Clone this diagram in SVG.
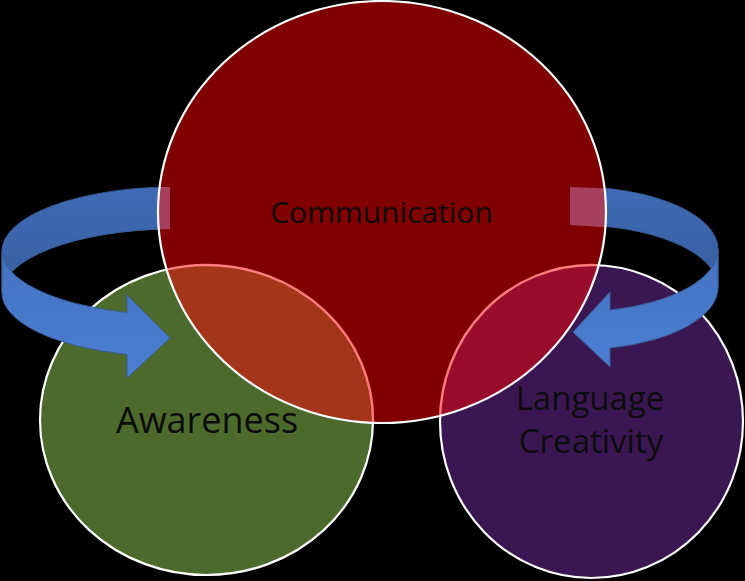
<svg xmlns="http://www.w3.org/2000/svg" width="745" height="581" viewBox="0 0 745 581">
<defs>
<style>
.lbl{font-family:"Open Sans","Noto Sans","Liberation Sans",sans-serif;fill:#0c0c0c;text-anchor:middle}
.ring{stroke:#ffffff;stroke-width:2.2}
.back{fill:url(#gBack);stroke:#3a5c98;stroke-width:1}
.front{fill:url(#gFront);stroke:#3a5c98;stroke-width:1}
.tint{fill:#a6405f}
.ov{stroke:#ff7d7d;stroke-width:2.4}
</style>
<linearGradient id="gBack" x1="0" y1="0" x2="0" y2="1">
<stop offset="0" stop-color="#3f6cb6"/>
<stop offset="1" stop-color="#365c9e"/>
</linearGradient>
<linearGradient id="gFront" x1="0" y1="0" x2="0" y2="1">
<stop offset="0" stop-color="#4472c0"/>
<stop offset="1" stop-color="#4b7fd2"/>
</linearGradient>
<clipPath id="clipRed"><ellipse cx="382" cy="212" rx="224" ry="211"/></clipPath>
</defs>
<rect x="0" y="0" width="745" height="581" fill="#000000"/>

<g id="node-awareness">
<ellipse class="ring" cx="206.5" cy="420" rx="166.5" ry="155" fill="#4b6a2b"/>
<text class="lbl" x="207" y="433" font-size="36">Awareness</text>
</g>

<g id="node-language-creativity">
<ellipse class="ring" cx="591.5" cy="421.5" rx="151.5" ry="156.5" fill="#3a1752"/>
<text class="lbl" x="590" y="410" font-size="33">Language</text>
<text class="lbl" x="591" y="453" font-size="33">Creativity</text>
</g>

<g id="connectors">
<g id="arrow-left">
<path class="back" d="M 2,251 A 173 64 0 0 1 170,187 L 170,229 A 173 64 0 0 0 2,293 Z"/>
<path class="front" d="M 2,251 A 173 64 0 0 0 127,312.5 L 127,295 L 170,338 L 127,378 L 127,354.5 A 173 64 0 0 1 2,293 Z"/>
</g>
<g id="arrow-right">
<path class="back" d="M 718,249.5 A 143 62.5 0 0 0 570,187 L 570,225 A 143 62.5 0 0 1 718,287.5 Z"/>
<path class="front" d="M 718,249.5 A 143 62.5 0 0 1 610,310.1 L 610,292 L 573,332 L 610,367 L 610,348.1 A 143 62.5 0 0 0 718,287.5 Z"/>
</g>
</g>

<g id="node-communication">
<ellipse cx="382" cy="212" rx="224" ry="211" fill="#800000"/>
<g clip-path="url(#clipRed)">
<path class="tint" d="M 150,187 L 170,187 L 170,229 L 150,230 Z"/>
<path class="tint" d="M 570,187 L 620,189 L 620,228 L 570,225 Z"/>
<ellipse class="ov" cx="206.5" cy="420" rx="166.5" ry="155" fill="#a3361a"/>
<ellipse class="ov" cx="591.5" cy="421.5" rx="151.5" ry="156.5" fill="#9a0c2c"/>
</g>
<ellipse class="ring" cx="382" cy="212" rx="224" ry="211" fill="none"/>
<text class="lbl" x="381.5" y="223" font-size="30">Communication</text>
</g>
</svg>
